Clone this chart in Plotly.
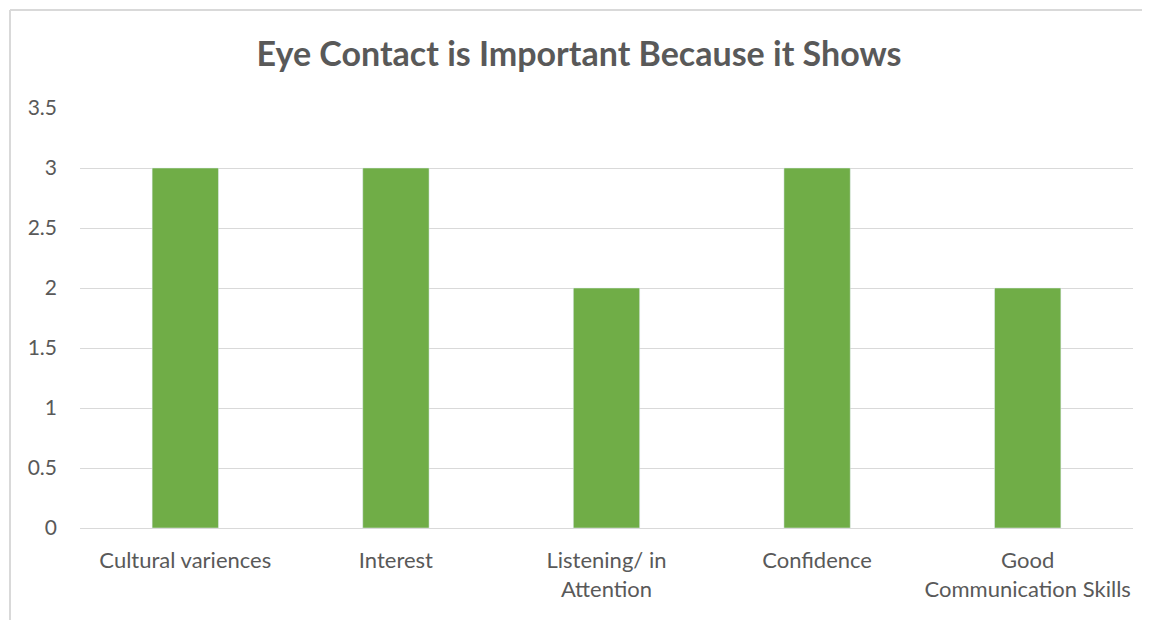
import plotly.graph_objects as go

categories = ["Cultural variences", "Interest", "Listening/ in<br>Attention", "Confidence", "Good<br>Communication Skills"]
values = [3, 3, 2, 3, 2]
y_ticks = [0, 0.5, 1, 1.5, 2, 2.5, 3, 3.5]
y_tick_labels = ["0", "0.5", "1", "1.5", "2", "2.5", "3", "3.5"]

OFF = 8  # page body margin
W, H = 1150 - OFF, 620 - OFF
ml, mr, mt, mb = 80 - OFF, 17, 108 - OFF, 92
pw, ph = W - ml - mr, H - mt - mb

fig = go.Figure(go.Bar(x=categories, y=values, marker_color="#70AD47", width=0.315))

def px(x):
    return (x - OFF - ml) / pw

def py(y):
    return 1 - (y - OFF - mt) / ph

border = dict(color="#D9D9D9", width=2)
fig.add_shape(type="line", xref="paper", yref="paper",
              x0=px(10), x1=px(1200), y0=py(10), y1=py(10), line=border, layer="below")
fig.add_shape(type="line", xref="paper", yref="paper",
              x0=px(10), x1=px(10), y0=py(10), y1=py(700), line=border, layer="below")

fig.update_layout(
    width=W, height=H,
    margin=dict(l=ml, r=mr, t=mt, b=mb),
    paper_bgcolor="white", plot_bgcolor="white",
    font=dict(family="Lato, Open Sans, sans-serif", color="#595959", size=21),
    title=dict(text="<b>Eye Contact is Important Because it Shows</b>", x=0.5, xanchor="center",
               y=1 - (54 - OFF) / H, yanchor="middle", font=dict(size=34, color="#595959")),
    showlegend=False,
    xaxis=dict(showgrid=False, showline=False, ticks="", ticklabelstandoff=17,
               tickfont=dict(size=22, color="#595959")),
    yaxis=dict(range=[0, 3.5], tickvals=y_ticks, ticktext=y_tick_labels, showgrid=True,
               gridcolor="#D9D9D9", gridwidth=1, zeroline=True, zerolinecolor="#D9D9D9",
               zerolinewidth=1, ticks="", ticklabelstandoff=22, tickfont=dict(size=21, color="#595959")),
)

fig.write_html("out.html", config={"displayModeBar": False})
